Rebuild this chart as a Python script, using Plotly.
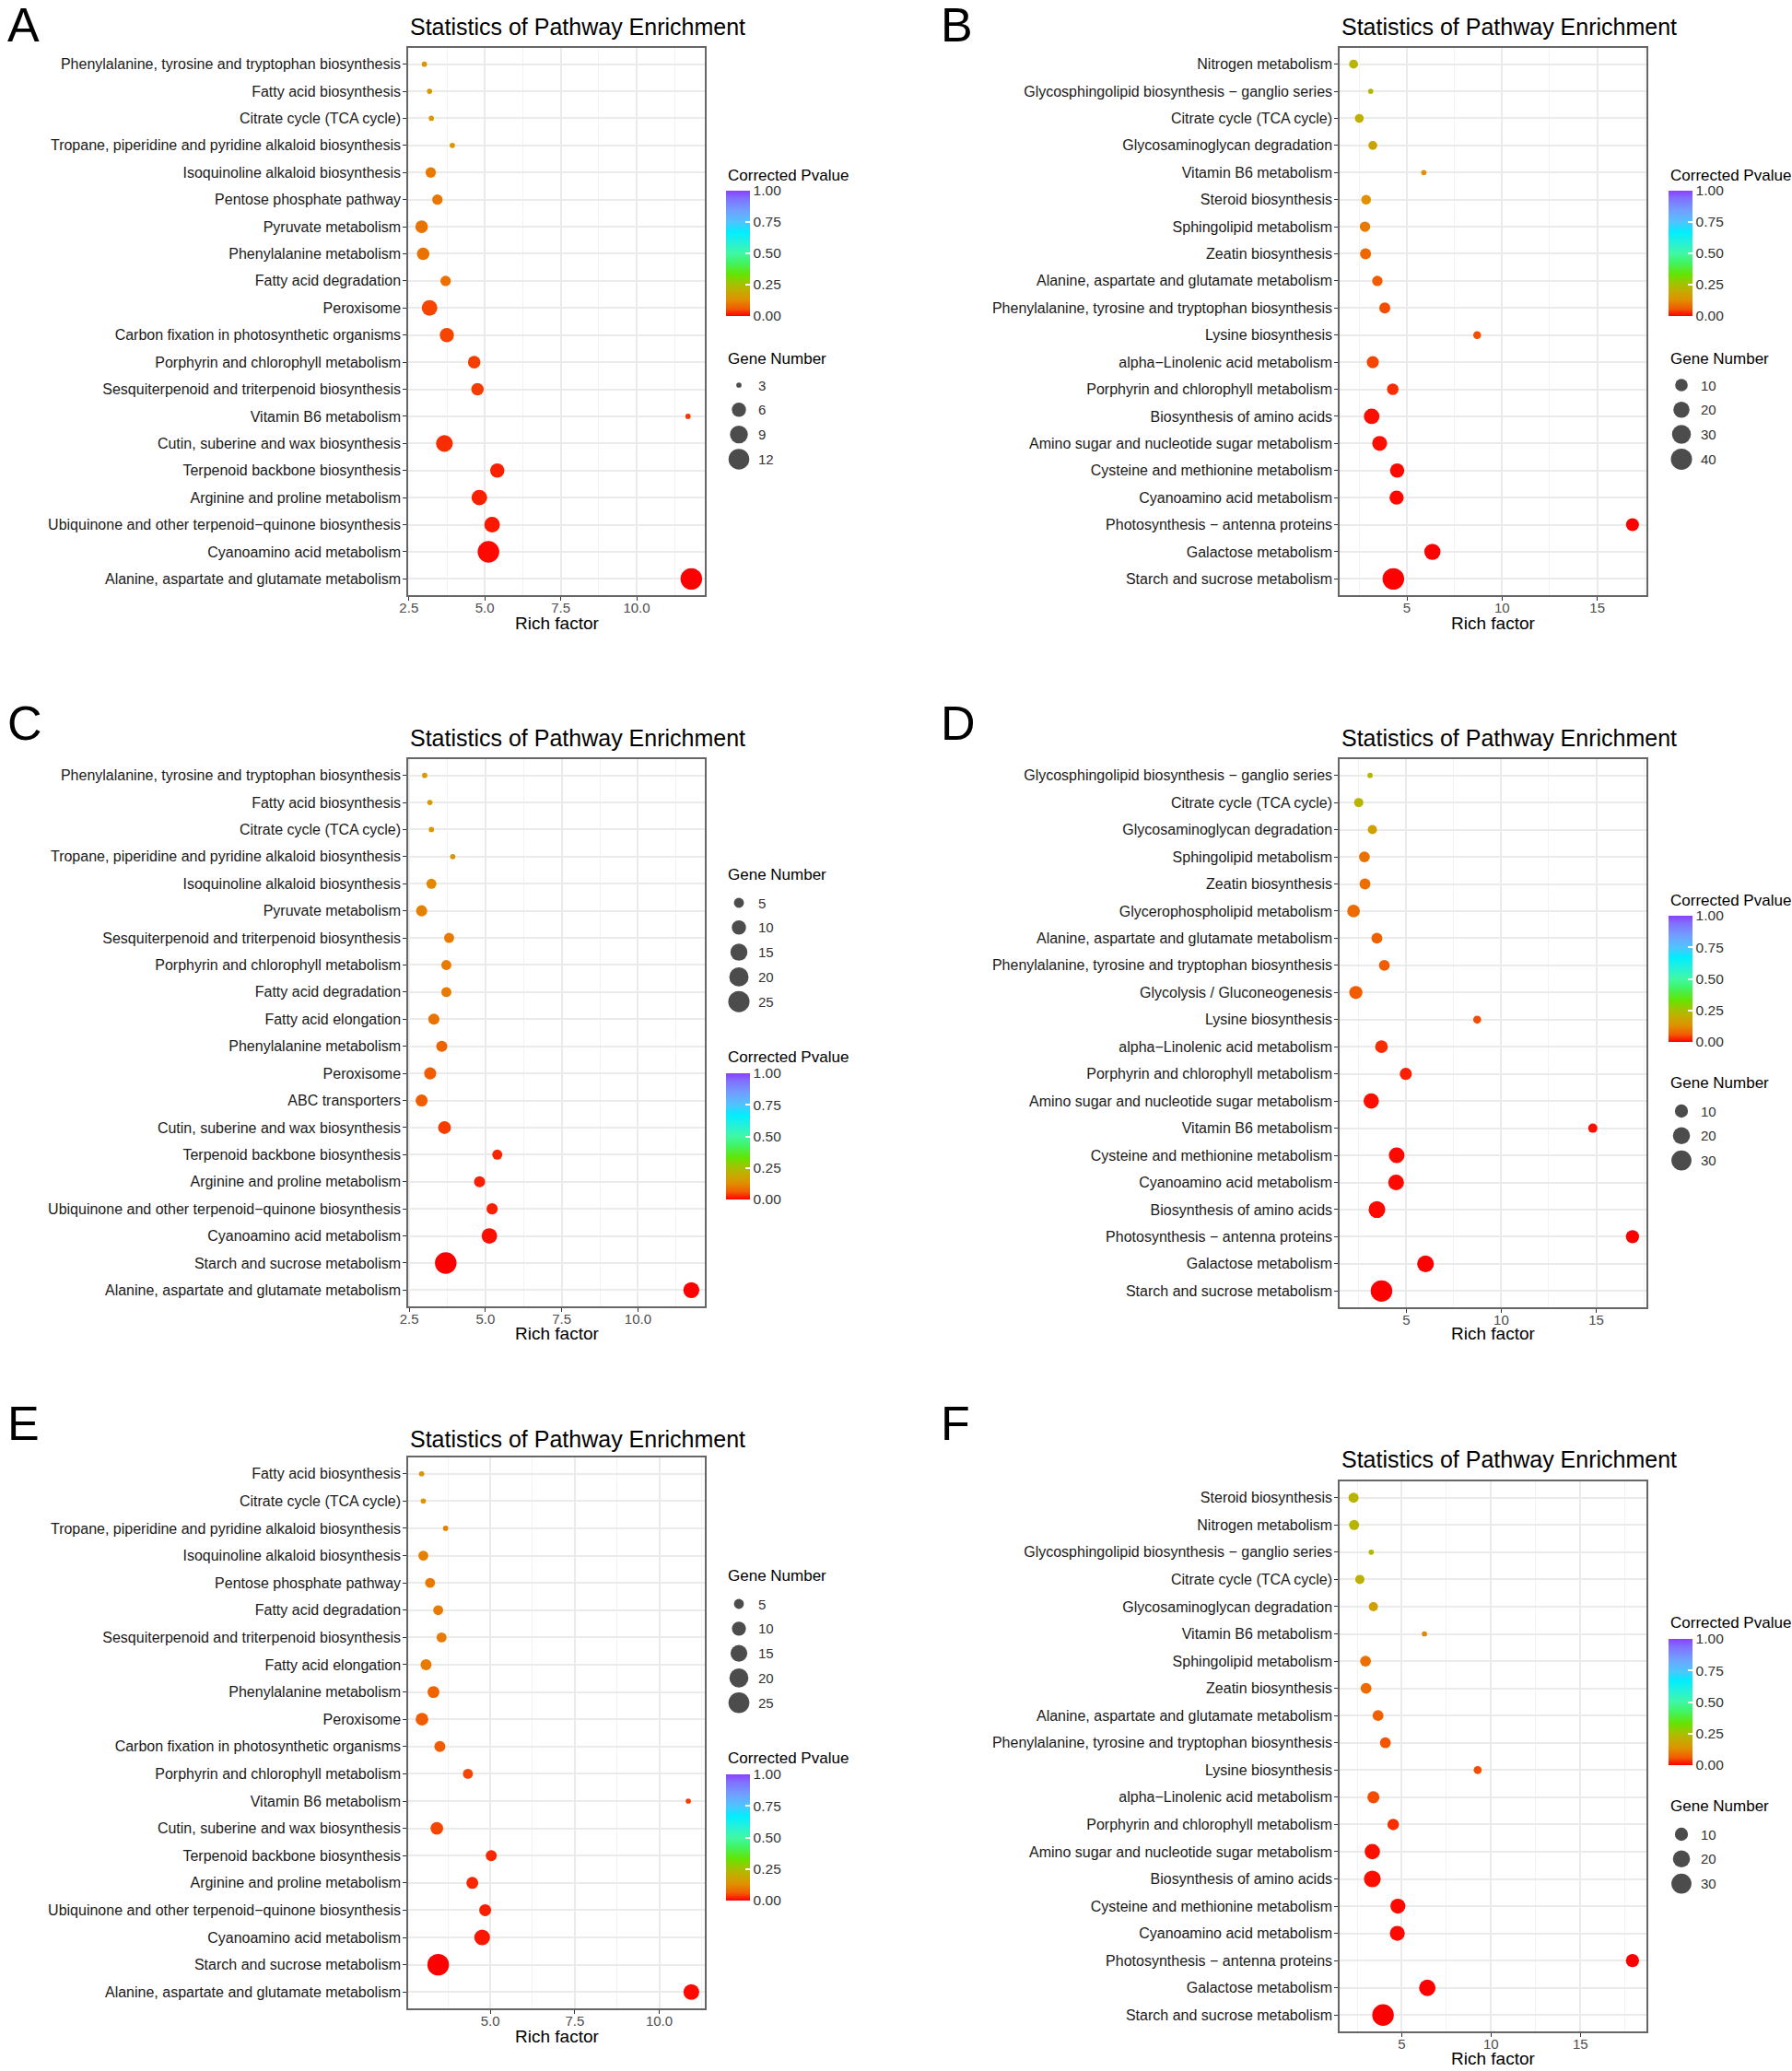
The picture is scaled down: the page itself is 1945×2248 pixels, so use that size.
import numpy as np
import plotly.graph_objects as go

W, H = 1945, 2248
FONT = "Liberation Sans"

# ---------------- data ----------------
A_pathways = ["Phenylalanine, tyrosine and tryptophan biosynthesis", "Fatty acid biosynthesis",
              "Citrate cycle (TCA cycle)", "Tropane, piperidine and pyridine alkaloid biosynthesis",
              "Isoquinoline alkaloid biosynthesis", "Pentose phosphate pathway", "Pyruvate metabolism",
              "Phenylalanine metabolism", "Fatty acid degradation", "Peroxisome",
              "Carbon fixation in photosynthetic organisms", "Porphyrin and chlorophyll metabolism",
              "Sesquiterpenoid and triterpenoid biosynthesis", "Vitamin B6 metabolism",
              "Cutin, suberine and wax biosynthesis", "Terpenoid backbone biosynthesis",
              "Arginine and proline metabolism", "Ubiquinone and other terpenoid\u2212quinone biosynthesis",
              "Cyanoamino acid metabolism", "Alanine, aspartate and glutamate metabolism"]
A_rich = [3.01, 3.18, 3.24, 3.93, 3.22, 3.44, 2.92, 2.97, 3.71, 3.18, 3.75, 4.65, 4.76, 11.69, 3.67,
          5.41, 4.82, 5.24, 5.12, 11.80]
A_genes = [3, 3, 3, 3, 4, 4, 5, 5, 4, 7, 6, 5, 5, 3, 8, 6, 7, 7, 13, 13]
A_pvalue = [0.15, 0.15, 0.15, 0.14, 0.10, 0.095, 0.09, 0.09, 0.085, 0.045, 0.045, 0.04, 0.04, 0.035,
            0.03, 0.02, 0.02, 0.015, 0.005, 0.0]
A_size_breaks = [3, 6, 9, 12]

B_pathways = ["Nitrogen metabolism", "Glycosphingolipid biosynthesis \u2212 ganglio series",
              "Citrate cycle (TCA cycle)", "Glycosaminoglycan degradation", "Vitamin B6 metabolism",
              "Steroid biosynthesis", "Sphingolipid metabolism", "Zeatin biosynthesis",
              "Alanine, aspartate and glutamate metabolism",
              "Phenylalanine, tyrosine and tryptophan biosynthesis", "Lysine biosynthesis",
              "alpha\u2212Linolenic acid metabolism", "Porphyrin and chlorophyll metabolism",
              "Biosynthesis of amino acids", "Amino sugar and nucleotide sugar metabolism",
              "Cysteine and methionine metabolism", "Cyanoamino acid metabolism",
              "Photosynthesis \u2212 antenna proteins", "Galactose metabolism", "Starch and sucrose metabolism"]
B_rich = [2.20, 3.10, 2.50, 3.21, 5.89, 2.86, 2.80, 2.83, 3.45, 3.84, 8.69, 3.21, 4.26, 3.15, 3.57,
          4.49, 4.46, 16.85, 6.34, 4.29]
B_genes = [4, 2, 4, 4, 2, 5, 6, 7, 6, 7, 3, 9, 8, 18, 16, 14, 14, 11, 20, 42]
B_pvalue = [0.22, 0.23, 0.21, 0.18, 0.13, 0.13, 0.10, 0.075, 0.06, 0.05, 0.05, 0.045, 0.03, 0.01,
            0.01, 0.005, 0.005, 0.0, 0.0, 0.0]
B_size_breaks = [10, 20, 30, 40]

C_pathways = ["Phenylalanine, tyrosine and tryptophan biosynthesis", "Fatty acid biosynthesis",
              "Citrate cycle (TCA cycle)", "Tropane, piperidine and pyridine alkaloid biosynthesis",
              "Isoquinoline alkaloid biosynthesis", "Pyruvate metabolism",
              "Sesquiterpenoid and triterpenoid biosynthesis", "Porphyrin and chlorophyll metabolism",
              "Fatty acid degradation", "Fatty acid elongation", "Phenylalanine metabolism", "Peroxisome",
              "ABC transporters", "Cutin, suberine and wax biosynthesis", "Terpenoid backbone biosynthesis",
              "Arginine and proline metabolism", "Ubiquinone and other terpenoid\u2212quinone biosynthesis",
              "Cyanoamino acid metabolism", "Starch and sucrose metabolism",
              "Alanine, aspartate and glutamate metabolism"]
C_rich = [3.01, 3.18, 3.23, 3.93, 3.23, 2.91, 3.81, 3.72, 3.72, 3.31, 3.57, 3.19, 2.91, 3.66, 5.39,
          4.81, 5.22, 5.13, 3.70, 11.75]
C_genes = [3, 3, 3, 3, 5, 6, 5, 5, 5, 6, 6, 7, 7, 8, 5, 6, 6, 12, 26, 13]
C_pvalue = [0.15, 0.15, 0.15, 0.14, 0.12, 0.11, 0.10, 0.10, 0.10, 0.09, 0.07, 0.06, 0.06, 0.04,
            0.025, 0.02, 0.02, 0.01, 0.0, 0.0]
C_size_breaks = [5, 10, 15, 20, 25]

D_pathways = ["Glycosphingolipid biosynthesis \u2212 ganglio series", "Citrate cycle (TCA cycle)",
              "Glycosaminoglycan degradation", "Sphingolipid metabolism", "Zeatin biosynthesis",
              "Glycerophospholipid metabolism", "Alanine, aspartate and glutamate metabolism",
              "Phenylalanine, tyrosine and tryptophan biosynthesis", "Glycolysis / Gluconeogenesis",
              "Lysine biosynthesis", "alpha\u2212Linolenic acid metabolism",
              "Porphyrin and chlorophyll metabolism", "Amino sugar and nucleotide sugar metabolism",
              "Vitamin B6 metabolism", "Cysteine and methionine metabolism", "Cyanoamino acid metabolism",
              "Biosynthesis of amino acids", "Photosynthesis \u2212 antenna proteins",
              "Galactose metabolism", "Starch and sucrose metabolism"]
D_rich = [3.09, 2.49, 3.21, 2.79, 2.82, 2.22, 3.45, 3.84, 2.34, 8.73, 3.69, 4.97, 3.15, 14.82, 4.49,
          4.46, 3.45, 16.91, 6.01, 3.69]
D_genes = [2, 4, 4, 6, 6, 9, 6, 6, 10, 3, 9, 8, 15, 4, 16, 16, 19, 10, 19, 36]
D_pvalue = [0.23, 0.22, 0.17, 0.09, 0.085, 0.08, 0.065, 0.06, 0.06, 0.05, 0.03, 0.02, 0.01, 0.01,
            0.005, 0.005, 0.005, 0.0, 0.0, 0.0]
D_size_breaks = [10, 20, 30]

E_pathways = ["Fatty acid biosynthesis", "Citrate cycle (TCA cycle)",
              "Tropane, piperidine and pyridine alkaloid biosynthesis", "Isoquinoline alkaloid biosynthesis",
              "Pentose phosphate pathway", "Fatty acid degradation",
              "Sesquiterpenoid and triterpenoid biosynthesis", "Fatty acid elongation",
              "Phenylalanine metabolism", "Peroxisome", "Carbon fixation in photosynthetic organisms",
              "Porphyrin and chlorophyll metabolism", "Vitamin B6 metabolism",
              "Cutin, suberine and wax biosynthesis", "Terpenoid backbone biosynthesis",
              "Arginine and proline metabolism", "Ubiquinone and other terpenoid\u2212quinone biosynthesis",
              "Cyanoamino acid metabolism", "Starch and sucrose metabolism",
              "Alanine, aspartate and glutamate metabolism"]
E_rich = [2.97, 3.02, 3.68, 3.02, 3.22, 3.46, 3.56, 3.10, 3.32, 2.98, 3.51, 4.34, 10.86, 3.42, 5.03,
          4.47, 4.85, 4.76, 3.46, 10.95]
E_genes = [3, 3, 3, 5, 5, 5, 5, 6, 7, 8, 6, 5, 3, 8, 6, 7, 7, 13, 27, 13]
E_pvalue = [0.14, 0.14, 0.11, 0.11, 0.10, 0.10, 0.10, 0.10, 0.07, 0.06, 0.06, 0.045, 0.04, 0.045,
            0.025, 0.025, 0.02, 0.015, 0.0, 0.005]
E_size_breaks = [5, 10, 15, 20, 25]

F_pathways = ["Steroid biosynthesis", "Nitrogen metabolism",
              "Glycosphingolipid biosynthesis \u2212 ganglio series", "Citrate cycle (TCA cycle)",
              "Glycosaminoglycan degradation", "Vitamin B6 metabolism", "Sphingolipid metabolism",
              "Zeatin biosynthesis", "Alanine, aspartate and glutamate metabolism",
              "Phenylalanine, tyrosine and tryptophan biosynthesis", "Lysine biosynthesis",
              "alpha\u2212Linolenic acid metabolism", "Porphyrin and chlorophyll metabolism",
              "Amino sugar and nucleotide sugar metabolism", "Biosynthesis of amino acids",
              "Cysteine and methionine metabolism", "Cyanoamino acid metabolism",
              "Photosynthesis \u2212 antenna proteins", "Galactose metabolism", "Starch and sucrose metabolism"]
F_rich = [2.30, 2.33, 3.29, 2.65, 3.41, 6.27, 2.97, 3.00, 3.67, 4.08, 9.25, 3.41, 4.52, 3.35, 3.35,
          4.78, 4.75, 17.92, 6.43, 3.95]
F_genes = [5, 5, 2, 4, 4, 2, 6, 6, 6, 6, 3, 8, 7, 15, 19, 14, 14, 10, 18, 36]
F_pvalue = [0.22, 0.22, 0.23, 0.21, 0.17, 0.12, 0.085, 0.08, 0.065, 0.055, 0.05, 0.05, 0.03, 0.01,
            0.01, 0.005, 0.005, 0.0, 0.0, 0.0]
F_size_breaks = [10, 20, 30]

PVALUE_TICKS = [0, 0.25, 0.5, 0.75, 1.0]
TITLE = "Statistics of Pathway Enrichment"
XTITLE = "Rich factor"

# ---------------- styling / layout ----------------
COLORSCALE = [[0.00, "#FF0000"], [0.06, "#F25C00"], [0.13, "#E09000"], [0.20, "#C4AC00"],
              [0.26, "#A0C400"], [0.33, "#64E400"], [0.43, "#40F468"], [0.50, "#40F8A4"],
              [0.60, "#20F0E0"], [0.67, "#00EEFF"], [0.75, "#50C4FF"], [0.84, "#70A0FF"],
              [0.94, "#8070FF"], [1.00, "#8A40FF"]]

panels = [
    dict(letter="A", path=A_pathways, rich=A_rich, genes=A_genes, p=A_pvalue, br=A_size_breaks, dtick=2.5, fmt=".1f",
         box=(443, 52, 765, 646), ty=29, xty=676, let=(6, 27), cb=(788, 207, 343), cty=190, gty=390, g0=418),
    dict(letter="B", path=B_pathways, rich=B_rich, genes=B_genes, p=B_pvalue, br=B_size_breaks, dtick=5, fmt="d",
         box=(1454, 52, 1787, 646), ty=29, xty=676, let=(1019, 27), cb=(1811, 207, 343), cty=190, gty=390, g0=418),
    dict(letter="C", path=C_pathways, rich=C_rich, genes=C_genes, p=C_pvalue, br=C_size_breaks, dtick=2.5, fmt=".1f",
         box=(443, 824, 765, 1418), ty=801, xty=1447, let=(6, 785), cb=(788, 1165, 1302), cty=1147, gty=949, g0=980),
    dict(letter="D", path=D_pathways, rich=D_rich, genes=D_genes, p=D_pvalue, br=D_size_breaks, dtick=5, fmt="d",
         box=(1454, 824, 1787, 1419), ty=801, xty=1447, let=(1019, 785), cb=(1811, 994, 1131), cty=977, gty=1175, g0=1206),
    dict(letter="E", path=E_pathways, rich=E_rich, genes=E_genes, p=E_pvalue, br=E_size_breaks, dtick=2.5, fmt=".1f",
         box=(443, 1582, 765, 2180), ty=1562, xty=2210, let=(6, 1545), cb=(788, 1926, 2063), cty=1908, gty=1710, g0=1741),
    dict(letter="F", path=F_pathways, rich=F_rich, genes=F_genes, p=F_pvalue, br=F_size_breaks, dtick=5, fmt="d",
         box=(1454, 1608, 1787, 2205), ty=1584, xty=2234, let=(1019, 1545), cb=(1811, 1779, 1916), cty=1762, gty=1960, g0=1991),
]

SPACING = 26.8
DOT_MIN, DOT_SPAN = 5.7, 17.7   # pixel diameter of smallest dot and extra diameter of largest


def diam(values, gmin, gmax):
    r = np.clip((np.asarray(values, float) - gmin) / (gmax - gmin), 0, 1)
    return DOT_MIN + DOT_SPAN * np.sqrt(r)


fig = go.Figure()
layout = dict(width=W, height=H, margin=dict(l=0, r=0, t=0, b=0), template="none",
              paper_bgcolor="white", plot_bgcolor="white", showlegend=False,
              font=dict(family=FONT, color="black"))
annotations = []

for k, P in enumerate(panels):
    ax = "" if k == 0 else str(k + 1)
    lx, ly = "x" + str(k + 7), "y" + str(k + 7)
    x0, y0, x1, y1 = P["box"]
    gmin, gmax = min(P["genes"]), max(P["genes"])
    lo, hi = min(P["rich"]), max(P["rich"])
    span = hi - lo
    n = len(P["path"])

    fig.add_trace(go.Scatter(
        x=P["rich"], y=P["path"], xaxis="x" + ax, yaxis="y" + ax, mode="markers",
        marker=dict(size=diam(P["genes"], gmin, gmax), color=P["p"], coloraxis="coloraxis" + ax,
                    line=dict(width=0), opacity=1),
        customdata=P["genes"],
        hovertemplate="%{y}<br>Rich factor: %{x}<br>Genes: %{customdata}<br>P: %{marker.color}<extra></extra>"))

    layout["xaxis" + ax] = dict(
        domain=[x0 / W, x1 / W], anchor="y" + ax, range=[lo - 0.05 * span, hi + 0.05 * span],
        tickmode="linear", tick0=0, dtick=P["dtick"], tickformat=P["fmt"],
        showgrid=True, gridcolor="#EBEBEB", gridwidth=2,
        minor=dict(tick0=0, dtick=P["dtick"] / 2, showgrid=True, gridcolor="#F3F3F3", gridwidth=1),
        ticks="outside", ticklen=4, tickwidth=1.3, tickcolor="#333333", ticklabelstandoff=-5,
        tickfont=dict(size=15, color="#4D4D4D", family=FONT),
        showline=True, linecolor="#666666", linewidth=1.5, mirror=True, zeroline=False,
        automargin=False, fixedrange=True)
    layout["yaxis" + ax] = dict(
        domain=[1 - y1 / H, 1 - y0 / H], anchor="x" + ax, type="category",
        categoryorder="array", categoryarray=P["path"][::-1], range=[-0.6, n - 0.4],
        showgrid=True, gridcolor="#EBEBEB", gridwidth=2,
        ticks="outside", ticklen=4, tickwidth=1.3, tickcolor="#333333", ticklabelstandoff=-1,
        tickfont=dict(size=16, color="#1A1A1A", family=FONT),
        showline=True, linecolor="#666666", linewidth=1.5, mirror=True, zeroline=False,
        automargin=False, fixedrange=True)

    cx, ct, cbm = P["cb"]
    layout["coloraxis" + ax] = dict(
        cmin=0, cmax=1, colorscale=COLORSCALE,
        colorbar=dict(x=cx / W, xanchor="left", y=1 - ct / H, yanchor="top",
                      len=cbm - ct, lenmode="pixels", thickness=26, thicknessmode="pixels",
                      xpad=0, ypad=0, outlinewidth=0, tickvals=PVALUE_TICKS, tickformat=".2f",
                      ticks="inside", ticklen=5, tickwidth=1.5, tickcolor="white",
                      tickfont=dict(size=15.5, color="#333333", family=FONT)))

    # size legend
    nb = len(P["br"])
    top = P["g0"] - SPACING / 2
    bot = top + nb * SPACING
    gx = cx + 14
    layout["xaxis" + str(k + 7)] = dict(domain=[(gx - 20) / W, (gx + 60) / W], range=[-20, 60],
                                        visible=False, fixedrange=True, anchor=ly)
    layout["yaxis" + str(k + 7)] = dict(domain=[1 - bot / H, 1 - top / H], range=[nb - 0.5, -0.5],
                                        visible=False, fixedrange=True, anchor=lx)
    fig.add_trace(go.Scatter(x=[0] * nb, y=list(range(nb)), xaxis=lx, yaxis=ly, mode="markers",
                             marker=dict(size=diam(P["br"], gmin, gmax), color="black", line=dict(width=0)),
                             hoverinfo="skip"))
    for i, b in enumerate(P["br"]):
        annotations.append(dict(xref=lx, yref=ly, x=19, y=i, text=str(b), showarrow=False,
                                xanchor="left", yanchor="middle",
                                font=dict(size=15, color="#333333", family=FONT)))

    # texts
    annotations.append(dict(xref="paper", yref="paper", x=x0 / W, y=1 - P["ty"] / H, text=TITLE,
                            showarrow=False, xanchor="left", yanchor="middle",
                            font=dict(size=25, color="black", family=FONT)))
    annotations.append(dict(xref="paper", yref="paper", x=(x0 + x1) / 2 / W, y=1 - P["xty"] / H,
                            text=XTITLE, showarrow=False, xanchor="center", yanchor="middle",
                            font=dict(size=19, color="black", family=FONT)))
    annotations.append(dict(xref="paper", yref="paper", x=cx / W, y=1 - P["cty"] / H,
                            text="Corrected Pvalue", showarrow=False, xanchor="left", yanchor="middle",
                            font=dict(size=17, color="black", family=FONT)))
    annotations.append(dict(xref="paper", yref="paper", x=cx / W, y=1 - P["gty"] / H,
                            text="Gene Number", showarrow=False, xanchor="left", yanchor="middle",
                            font=dict(size=17, color="black", family=FONT)))
    annotations.append(dict(xref="paper", yref="paper", x=P["let"][0] / W, y=1 - P["let"][1] / H,
                            text=P["letter"], showarrow=False, xanchor="left", yanchor="middle",
                            font=dict(size=52, color="black", family=FONT)))

layout["annotations"] = annotations
fig.update_layout(**layout)

fig.write_html("out.html", config={"displayModeBar": False},
               post_script="document.body.style.margin='0px';")
